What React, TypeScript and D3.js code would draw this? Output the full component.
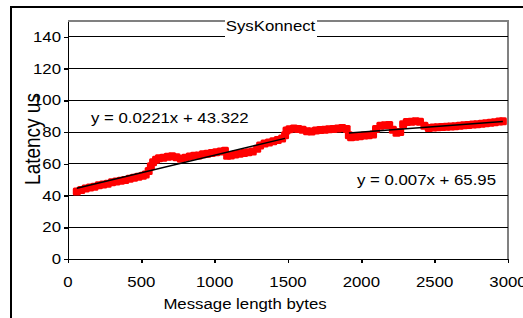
import { select, scaleLinear, axisBottom, axisLeft } from "d3";
import React, { useEffect, useRef } from "react";

const msgBytes = [
  60, 90, 120, 150, 180, 210, 240, 270, 300, 330, 360, 390, 420, 450, 480, 510, 530, 550, 565, 580,
  600, 620, 650, 680, 710, 740, 770, 800, 830, 860, 890, 920, 950, 980, 1010, 1040, 1070, 1085, 1110, 1140,
  1170, 1200, 1230, 1260, 1290, 1310, 1340, 1370, 1400, 1430, 1460, 1480, 1490, 1510, 1540, 1570, 1600, 1630, 1660, 1690,
  1720, 1750, 1780, 1810, 1840, 1870, 1900, 1915, 1930, 1960, 1990, 2020, 2050, 2080, 2100, 2130, 2160, 2190, 2215, 2240,
  2265, 2285, 2310, 2340, 2370, 2400, 2430, 2460, 2490, 2520, 2550, 2580, 2610, 2640, 2670, 2700, 2730, 2760, 2790, 2820,
  2850, 2880, 2910, 2940, 2965,
];
const latencyUs = [
  42.5, 43.5, 44.5, 45, 45.5, 46.5, 47, 47.5, 48.3, 48.8, 49.3, 49.8, 50.5, 51.2, 51.8, 52.5, 53.2, 55.5, 58.5, 61,
  62.5, 63.5, 63.8, 64.5, 64.8, 64.2, 63.2, 63.8, 64.6, 65, 65.3, 66, 66.4, 66.8, 67.3, 67.8, 68.3, 65, 65.2, 65.8,
  66.3, 66.8, 67.3, 67.8, 69.5, 71.5, 72.8, 73.5, 74.2, 75, 76, 78, 81, 81.8, 82.3, 82, 81.5, 80.5, 80.3, 81,
  81.3, 81.5, 81.8, 82, 82.3, 82.5, 82, 78, 76.8, 77, 77.3, 77.8, 78, 78.5, 82, 84, 84.3, 84.5, 81.5, 79.5,
  80, 85, 86.3, 86.5, 86.8, 86.5, 84, 82.5, 82.8, 83, 83.2, 83.3, 83.5, 83.6, 84, 84.3, 84.5, 84.8, 85, 85.3,
  85.6, 85.9, 86.2, 86.6, 86.8,
];

// linear trendlines shown on the chart
const trendFrom = [60, 1915];
const trendTo = [1480, 2965];
const trendSlope = [0.0221, 0.007];
const trendIntercept = [43.322, 65.95];
const trendLabels = ["y = 0.0221x + 43.322", "y = 0.007x + 65.95"];

const xTicks = [0, 500, 1000, 1500, 2000, 2500, 3000];
const yTicks = [0, 20, 40, 60, 80, 100, 120, 140];

const left = 68, right = 508, top = 21, bottom = 259;
const sx = 1.12; // the picture's text is a bit wide
const font = "Arial, 'Liberation Sans', sans-serif";

export default function App() {
  const svgRef = useRef<SVGSVGElement>(null);

  useEffect(() => {
    const svg = select(svgRef.current);
    svg.selectAll("*").remove();

    const x = scaleLinear().domain([0, 3000]).range([left, right]);
    const y = scaleLinear().domain([0, 150]).range([bottom, top]);

    // chart frame (runs off the right and bottom)
    svg.append("rect")
      .attr("x", 11).attr("y", 7).attr("width", 600).attr("height", 400)
      .attr("fill", "white").attr("stroke", "black").attr("stroke-width", 2);

    // plot area border, top and right
    svg.append("path")
      .attr("d", `M${left},${top}H${right}V${bottom}`)
      .attr("fill", "none").attr("stroke", "#808080").attr("stroke-width", 2);

    // gridlines
    svg.append("g").selectAll("line")
      .data(yTicks.filter((d) => d > 0))
      .join("line")
      .attr("x1", left).attr("x2", right)
      .attr("y1", (d) => y(d)).attr("y2", (d) => y(d))
      .attr("stroke", "black").attr("shape-rendering", "crispEdges");

    // axes
    svg.append("g")
      .attr("transform", `translate(0,${bottom})`)
      .call(axisBottom(x).tickValues(xTicks).tickSize(4).tickSizeOuter(0).tickFormat(() => ""))
      .attr("shape-rendering", "crispEdges")
      .selectAll("path,line").attr("stroke-width", 1.5);
    svg.append("g")
      .attr("transform", `translate(${left},0)`)
      .call(axisLeft(y).tickValues(yTicks).tickSize(4).tickSizeOuter(0).tickFormat(() => ""))
      .attr("shape-rendering", "crispEdges")
      .selectAll("path,line").attr("stroke-width", 1.5);

    // data
    const pts = msgBytes.map((b, i) => [b, latencyUs[i]]);
    svg.append("g").selectAll("rect")
      .data(pts)
      .join("rect")
      .attr("x", (d) => x(d[0]) - 4)
      .attr("y", (d) => y(d[1]) - 4)
      .attr("width", 8).attr("height", 8)
      .attr("rx", 1.5)
      .attr("fill", "#ff0000");

    // trendlines
    svg.append("g").selectAll("line")
      .data(trendFrom)
      .join("line")
      .attr("x1", (d) => x(d))
      .attr("y1", (d, i) => y(trendSlope[i] * d + trendIntercept[i]))
      .attr("x2", (d, i) => x(trendTo[i]))
      .attr("y2", (d, i) => y(trendSlope[i] * trendTo[i] + trendIntercept[i]))
      .attr("stroke", "black").attr("stroke-width", 1.5);

    // title box over the gridlines
    svg.append("rect")
      .attr("x", 225).attr("y", 13).attr("width", 92).attr("height", 28)
      .attr("fill", "white");

    const txt = svg.append("g").attr("font-family", font).attr("font-size", 15).attr("fill", "black");

    txt.selectAll(".xl").data(xTicks).join("text")
      .attr("class", "xl")
      .attr("transform", (d) => `translate(${x(d)},287) scale(${sx},1)`)
      .attr("text-anchor", "middle")
      .text((d) => d);

    txt.selectAll(".yl").data(yTicks).join("text")
      .attr("class", "yl")
      .attr("transform", (d) => `translate(61,${y(d) + 5}) scale(${sx},1)`)
      .attr("text-anchor", "end")
      .text((d) => d);

    txt.append("text")
      .attr("transform", `translate(91,123) scale(${sx},1)`)
      .text(trendLabels[0]);
    txt.append("text")
      .attr("transform", `translate(357,185) scale(${sx},1)`)
      .text(trendLabels[1]);

    txt.append("text")
      .attr("transform", `translate(270.5,31) scale(${sx},1)`)
      .attr("text-anchor", "middle")
      .text("SysKonnect");

    // axis titles
    txt.append("text")
      .attr("transform", `translate(245,309) scale(${sx},1)`)
      .attr("text-anchor", "middle")
      .text("Message length bytes");
    txt.append("text")
      .attr("transform", `translate(40,139) scale(${sx},1) rotate(-90)`)
      .attr("text-anchor", "middle")
      .attr("font-size", 19)
      .text("Latency us");
  }, []);

  return (
    <svg ref={svgRef} width={523} height={318}
      style={{ position: "absolute", left: 0, top: 0, background: "white" }} />
  );
}
